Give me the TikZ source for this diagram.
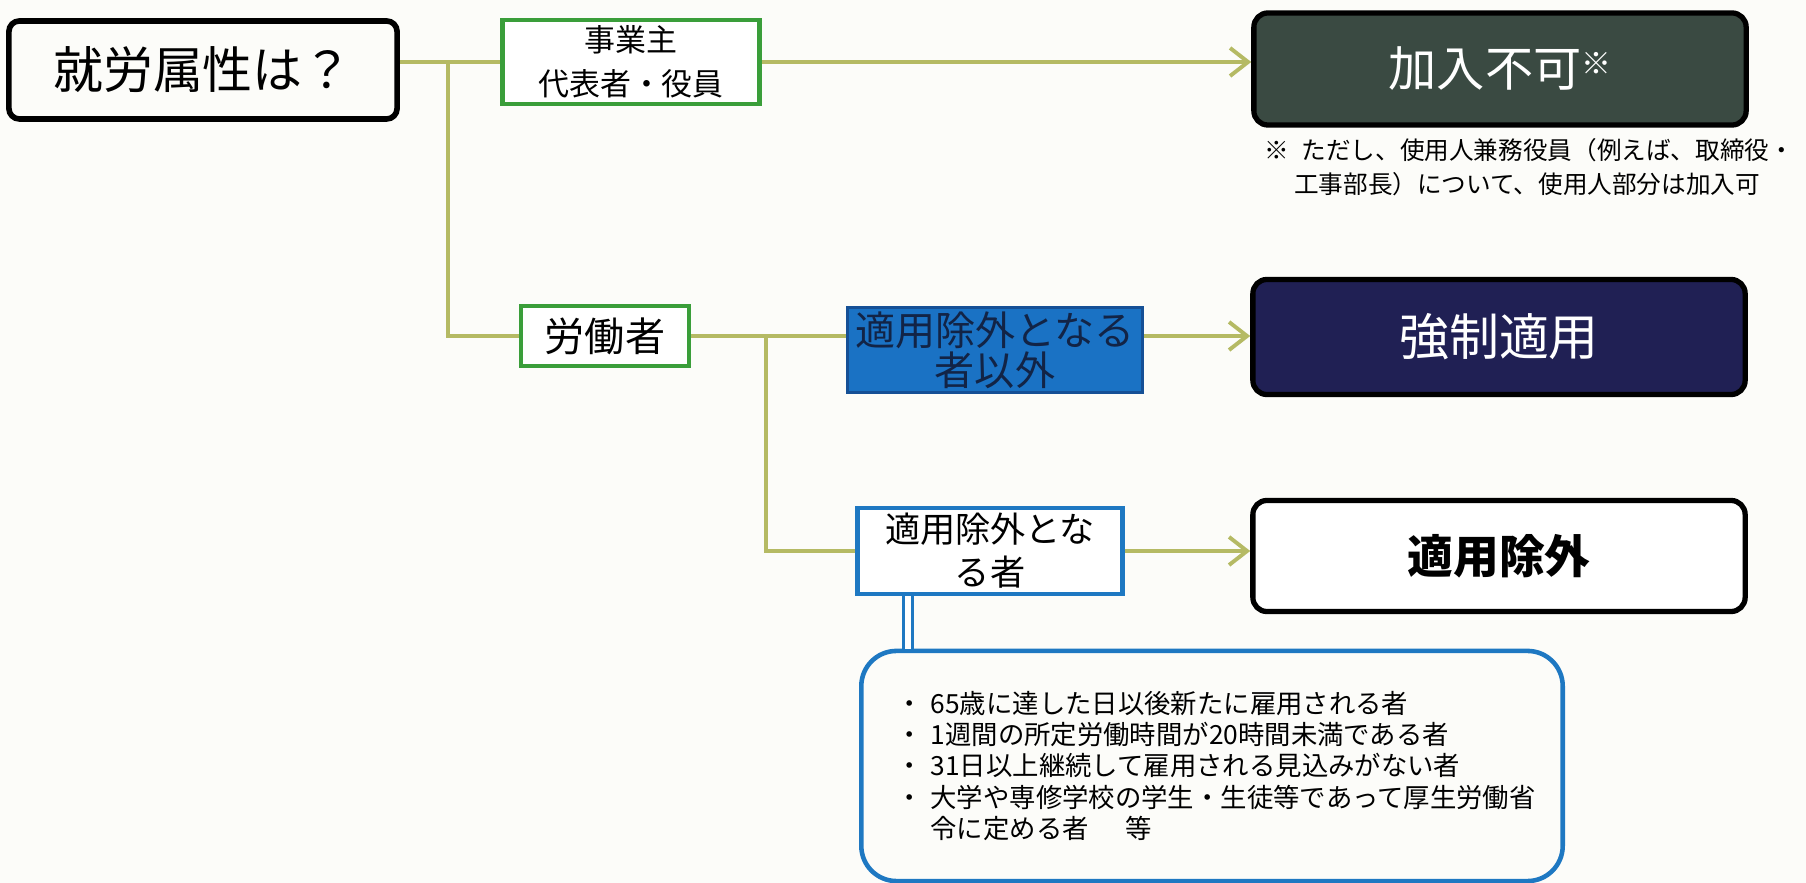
\documentclass[tikz,border=0pt]{standalone}
\usepackage{fontspec}
\setmainfont{Noto Sans CJK JP}
\usepackage{xcolor}
\usetikzlibrary{arrows.meta}
\definecolor{paper}{RGB}{252,252,249}
\definecolor{linkline}{RGB}{181,186,100}
\definecolor{bizgreen}{RGB}{58,158,58}
\definecolor{darkgreen}{RGB}{58,74,66}
\definecolor{navy}{RGB}{32,32,84}
\definecolor{midblue}{RGB}{26,114,196}
\definecolor{edgeblue}{RGB}{22,80,150}
\definecolor{lineblue}{RGB}{30,120,194}
\definecolor{bluetext}{RGB}{18,36,70}

\begin{document}
\begin{tikzpicture}[x=0.01cm,y=-0.01cm,
    >={Straight Barb[length=1.8mm,width=2.8mm]},
    link/.style={draw=linkline, line width=1.1pt},
    box/.style={shape=rectangle, inner sep=0pt, align=center},
    greenbox/.style={box, draw=bizgreen, line width=1.3pt, fill=white},
    result/.style={box, draw=black, line width=1.5pt, rounded corners=4pt, minimum width=4.92cm, minimum height=1.12cm}]
    \fill[paper] (0,0) rectangle (1806,883);
    \useasboundingbox (0,0) rectangle (1806,883);

    \node[box, draw, line width=1.6pt, rounded corners=3pt, minimum width=3.88cm, minimum height=0.98cm, font=\fontsize{14.2}{17}\selectfont] (attr) at (203,70) {就労属性は？};
    \node[greenbox, minimum width=2.57cm, minimum height=0.84cm, font=\fontsize{8.8}{12.6}\selectfont] (biz) at (631,62) {事業主\\代表者・役員};
    \node[greenbox, minimum width=1.68cm, minimum height=0.6cm, font=\fontsize{11.4}{13}\selectfont] (worker) at (605,336) {労働者};

    \node[result, fill=darkgreen, text=white, font=\fontsize{13.7}{16}\selectfont] (noentry) at (1500,69) {加入不可{\fontsize{8.5}{8.5}\selectfont\raisebox{3.5pt}{※}}};
    \node[result, fill=navy, minimum height=1.15cm, text=white, font=\fontsize{14.2}{17}\selectfont] (mandatory) at (1499,337) {強制適用};
    \node[result, fill=white, minimum height=1.11cm, font=\bfseries\fontsize{13}{16}\selectfont] (exclusion) at (1499,556) {適用除外};

    \node[anchor=west, align=left, inner sep=0pt, font=\fontsize{7}{9.7}\selectfont] (note) at (1264,167) {※\hspace{0.5em}ただし、使用人兼務役員（例えば、取締役・\\\hspace{1.2em}工事部長）について、使用人部分は加入可};

    \node[box, draw=edgeblue, line width=0.8pt, fill=midblue, text=bluetext, minimum width=2.95cm, minimum height=0.85cm, font=\fontsize{11.4}{11.4}\selectfont] (notexcl) at (995,350) {適用除外となる\\者以外};
    \node[box, draw=lineblue, line width=1.2pt, fill=white, minimum width=2.65cm, minimum height=0.86cm, font=\fontsize{10}{12.2}\selectfont] (excl) at (990,551) {適用除外とな\\る者};

    \node[box, draw=lineblue, line width=1.3pt, rounded corners=10pt, minimum width=7.01cm, minimum height=2.3cm, text width=6.31cm, align=left, font=\fontsize{7.5}{8.9}\selectfont] (list) at (1212,766) {\makebox[1.3em][l]{・}65歳に達した日以後新たに雇用される者\\\makebox[1.3em][l]{・}1週間の所定労働時間が20時間未満である者\\\makebox[1.3em][l]{・}31日以上継続して雇用される見込みがない者\\\makebox[1.3em][l]{・}大学や専修学校の学生・生徒等であって厚生労働省\\\hspace*{1.3em}令に定める者\hspace{1.4em}等};

    \coordinate (trunk) at (448,0);
    \coordinate (branch) at (766,0);
    \coordinate (tie) at (908,0);

    \draw[link] (attr.east |- biz.west) -- (biz.west);
    \draw[link,->] (biz.east) -- (biz.east -| noentry.west);
    \draw[link] (trunk |- biz.west) -- (trunk |- worker.west) -- (worker.west);
    \draw[link] (worker.east) -- (worker.east -| notexcl.west);
    \draw[link,->] (notexcl.east |- worker.east) -- (worker.east -| mandatory.west);
    \draw[link] (branch |- worker.east) -- (branch |- excl.west) -- (excl.west);
    \draw[link,->] (excl.east) -- (excl.east -| exclusion.west);
    \draw[draw=lineblue, line width=0.9pt, double=white, double distance=1.8pt] (excl.south -| tie) -- (list.north -| tie);
\end{tikzpicture}
\end{document}
